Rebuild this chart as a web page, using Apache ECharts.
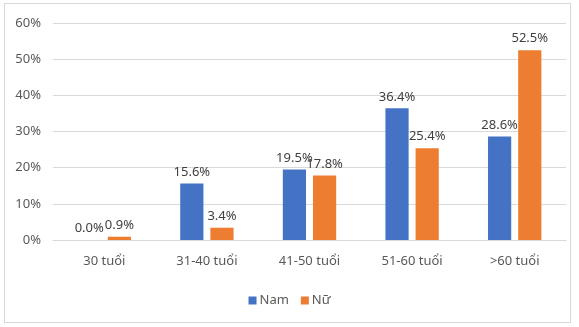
<!DOCTYPE html>
<html>
<head>
<meta charset="utf-8">
<script src="https://cdn.jsdelivr.net/npm/echarts@6/dist/echarts.min.js"></script>
<style>
  html, body { margin: 0; padding: 0; background: #fff; }
  #khung { position: absolute; left: 4px; top: 3px; width: 565px; height: 318px; border: 1px solid #d9d9d9; }
  #bieu-do { position: absolute; left: 0; top: 0; width: 579px; height: 327px; }
</style>
</head>
<body>
<div id="khung"></div>
<div id="bieu-do"></div>
<script>
// Dữ liệu
const nhomTuoi = ['30 tuổi', '31-40 tuổi', '41-50 tuổi', '51-60 tuổi', '>60 tuổi'];
const nam = [0.0, 15.6, 19.5, 36.4, 28.6];
const nu = [0.9, 3.4, 17.8, 25.4, 52.5];

const FONT = 'Noto Sans, sans-serif';

const chart = echarts.init(document.getElementById('bieu-do'));

const nhanDuLieu = {
  show: true,
  position: 'top',
  distance: 5,
  color: '#404040',
  fontSize: 13,
  fontFamily: FONT,
  formatter: p => p.value.toFixed(1) + '%'
};

chart.setOption({
  animation: false,
  textStyle: { fontFamily: FONT },
  grid: { left: 53, right: 13, top: 23, bottom: 87, containLabel: false },
  legend: {
    bottom: 15,
    left: 'center',
    itemWidth: 8,
    itemHeight: 8,
    itemGap: 12,
    icon: 'rect',
    textStyle: { color: '#595959', fontSize: 13, fontFamily: FONT, padding: [0, 0, 0, -2] },
    data: ['Nam', 'Nữ']
  },
  xAxis: {
    type: 'category',
    data: nhomTuoi,
    axisLine: { lineStyle: { color: '#d9d9d9' } },
    axisTick: { show: false },
    axisLabel: { color: '#595959', fontSize: 13, margin: 15, fontFamily: FONT }
  },
  yAxis: {
    type: 'value',
    min: 0,
    max: 60,
    interval: 10,
    axisLine: { show: false },
    axisTick: { show: false },
    splitLine: { lineStyle: { color: '#d9d9d9' } },
    axisLabel: { color: '#595959', fontSize: 13, margin: 12, fontFamily: FONT, formatter: '{value}%' }
  },
  series: [
    {
      name: 'Nam',
      type: 'bar',
      data: nam,
      itemStyle: { color: '#4472C4' },
      barGap: '30%',
      barCategoryGap: '48%',
      label: nhanDuLieu
    },
    {
      name: 'Nữ',
      type: 'bar',
      data: nu,
      itemStyle: { color: '#ED7D31' },
      label: nhanDuLieu
    }
  ]
});
</script>
</body>
</html>
